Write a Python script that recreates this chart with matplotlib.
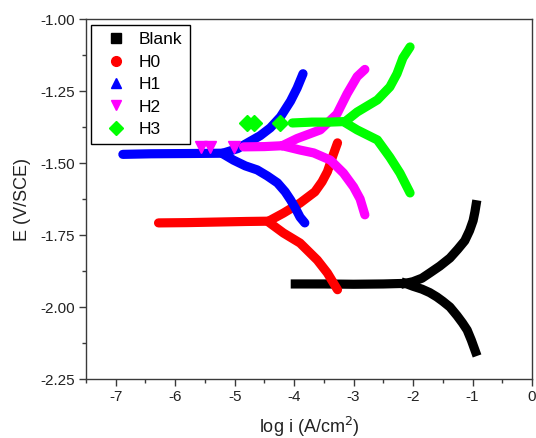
import matplotlib
matplotlib.use('Agg')
import matplotlib.pyplot as plt
from matplotlib.lines import Line2D
from matplotlib.ticker import MultipleLocator, FormatStrFormatter

plt.rcParams['font.family'] = ['Liberation Sans', 'DejaVu Sans']
plt.rcParams['axes.unicode_minus'] = False

# ---- data: log i (A/cm2) vs E (V/SCE) ----
# each curve = flat arm (left of the cusp), anodic arm (up), cathodic arm (down)
blank_flat_x = [-3.98, -3.5, -3.0, -2.5, -2.13]
blank_flat_y = [-1.920, -1.920, -1.921, -1.920, -1.918]
blank_up_x = [-2.13, -2.00, -1.85, -1.72, -1.55, -1.38, -1.25, -1.13, -1.05, -0.99, -0.96, -0.94]
blank_up_y = [-1.918, -1.912, -1.900, -1.882, -1.858, -1.830, -1.800, -1.770, -1.735, -1.700, -1.670, -1.645]
blank_dn_x = [-2.13, -2.00, -1.85, -1.72, -1.60, -1.50, -1.38, -1.26, -1.17, -1.09, -1.02, -0.95]
blank_dn_y = [-1.918, -1.928, -1.938, -1.950, -1.965, -1.980, -2.000, -2.030, -2.055, -2.080, -2.115, -2.155]

h0_flat_x = [-6.28, -5.8, -5.3, -4.8, -4.43]
h0_flat_y = [-1.708, -1.707, -1.705, -1.703, -1.702]
h0_up_x = [-4.43, -4.18, -3.90, -3.65, -3.53, -3.44, -3.34, -3.27]
h0_up_y = [-1.702, -1.674, -1.639, -1.600, -1.565, -1.530, -1.470, -1.430]
h0_dn_x = [-4.43, -4.18, -3.90, -3.61, -3.44, -3.27]
h0_dn_y = [-1.705, -1.743, -1.778, -1.837, -1.882, -1.940]

h1_flat_x = [-6.88, -6.41, -5.74, -5.20]
h1_flat_y = [-1.470, -1.468, -1.467, -1.466]
h1_up_x = [-5.20, -4.95, -4.74, -4.57, -4.40, -4.23, -4.06, -3.95, -3.85]
h1_up_y = [-1.466, -1.450, -1.425, -1.405, -1.378, -1.340, -1.285, -1.240, -1.190]
h1_dn_x = [-5.20, -5.02, -4.82, -4.62, -4.45, -4.28, -4.15, -4.06, -3.97, -3.90, -3.82]
h1_dn_y = [-1.468, -1.490, -1.510, -1.524, -1.545, -1.569, -1.600, -1.628, -1.660, -1.688, -1.708]

h2_dots_x = [-5.56, -5.41, -5.01]
h2_dots_y = [-1.444, -1.444, -1.444]
h2_flat_x = [-4.85, -4.5, -4.2]
h2_flat_y = [-1.444, -1.443, -1.440]
h2_up_x = [-4.20, -3.95, -3.56, -3.28, -3.11, -2.94, -2.81]
h2_up_y = [-1.440, -1.415, -1.385, -1.330, -1.260, -1.200, -1.175]
h2_dn_x = [-4.20, -3.90, -3.67, -3.39, -3.17, -3.00, -2.89, -2.81]
h2_dn_y = [-1.440, -1.455, -1.465, -1.490, -1.535, -1.583, -1.625, -1.680]

h3_dots_x = [-4.80, -4.67, -4.23]
h3_dots_y = [-1.361, -1.361, -1.361]
h3_flat_x = [-4.03, -3.7, -3.4, -3.14]
h3_flat_y = [-1.361, -1.358, -1.358, -1.356]
h3_up_x = [-3.14, -2.94, -2.60, -2.39, -2.27, -2.17, -2.05]
h3_up_y = [-1.356, -1.323, -1.281, -1.236, -1.190, -1.135, -1.097]
h3_dn_x = [-3.14, -2.94, -2.60, -2.39, -2.22, -2.05]
h3_dn_y = [-1.360, -1.385, -1.420, -1.480, -1.535, -1.604]

labels = ['Blank', 'H0', 'H1', 'H2', 'H3']
colors = ['black', 'red', 'blue', 'magenta', '#00ff00']
markers = ['s', 'o', '^', 'v', 'D']

curves = [
    [(blank_flat_x, blank_flat_y), (blank_up_x, blank_up_y), (blank_dn_x, blank_dn_y)],
    [(h0_flat_x, h0_flat_y), (h0_up_x, h0_up_y), (h0_dn_x, h0_dn_y)],
    [(h1_flat_x, h1_flat_y), (h1_up_x, h1_up_y), (h1_dn_x, h1_dn_y)],
    [(h2_flat_x, h2_flat_y), (h2_up_x, h2_up_y), (h2_dn_x, h2_dn_y)],
    [(h3_flat_x, h3_flat_y), (h3_up_x, h3_up_y), (h3_dn_x, h3_dn_y)],
]
dots = [None, None, None, (h2_dots_x, h2_dots_y), (h3_dots_x, h3_dots_y)]
caps = ['projecting', 'round', 'round', 'round', 'round']

fig = plt.figure(figsize=(5.36, 4.38), dpi=100)
ax = fig.add_axes([0.1604, 0.1347, 0.8321, 0.8219])

for i in range(5):
    for bx, by in curves[i]:
        ax.plot(bx, by, '-', color=colors[i], linewidth=6.6,
                solid_capstyle=caps[i], solid_joinstyle='round', zorder=2 + i)
    if dots[i] is not None:
        ax.plot(dots[i][0], dots[i][1], markers[i], color=colors[i],
                markersize=8, linestyle='none', zorder=2 + i)

ax.set_xlim(-7.5, 0)
ax.set_ylim(-2.25, -1.0)
ax.xaxis.set_major_locator(MultipleLocator(1))
ax.xaxis.set_minor_locator(MultipleLocator(0.5))
ax.yaxis.set_major_locator(MultipleLocator(0.25))
ax.yaxis.set_minor_locator(MultipleLocator(0.125))
ax.xaxis.set_major_formatter(FormatStrFormatter('%d'))
ax.yaxis.set_major_formatter(FormatStrFormatter('%.2f'))

spine_col = '#3a3a3a'
for s in ax.spines.values():
    s.set_color(spine_col)
    s.set_linewidth(1.0)
ax.tick_params(which='both', direction='out', top=False, right=False,
               color=spine_col, labelsize=11, labelcolor='#222222')
ax.tick_params(which='major', length=5, width=1.0, pad=3)
ax.tick_params(which='minor', length=3, width=1.0)

ax.set_xlabel(r'log i (A/cm$^2$)', fontsize=13, color='#222222', labelpad=8)
ax.set_ylabel('E (V/SCE)', fontsize=13, color='#222222', labelpad=7)

handles = [Line2D([], [], marker=markers[i], color=colors[i], linestyle='none',
                  markersize=7) for i in range(5)]
leg = ax.legend(handles, labels, loc='upper left', bbox_to_anchor=(0.012, 0.983),
                fontsize=12.5, frameon=True, fancybox=False, framealpha=1,
                edgecolor='black', borderpad=0.4, labelspacing=0.42,
                handlelength=2.0, handletextpad=0.35, borderaxespad=0)
leg.get_frame().set_linewidth(1.0)

fig.savefig('out.png', dpi=100)
